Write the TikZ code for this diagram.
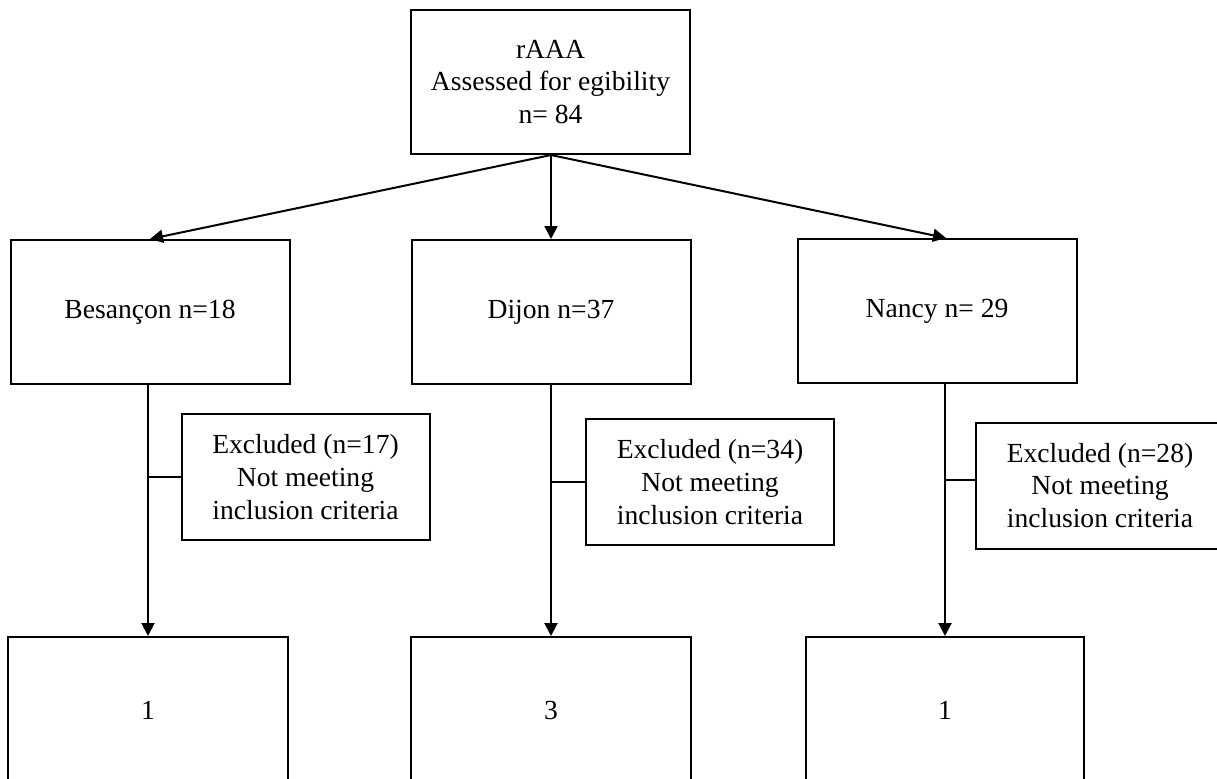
\documentclass[tikz,border=0pt]{standalone}
\usepackage{fontspec}
\setmainfont{Liberation Serif}
\usepackage{tikz}
\usetikzlibrary{arrows.meta,calc}

\begin{document}
\begin{tikzpicture}[x=0.5pt,y=-0.5pt,>={Triangle[length=6.5pt,width=6.5pt]},
  line width=1pt,
  box/.style={draw,align=center,inner sep=0pt,minimum width=139.5pt,minimum height=72pt,
    font=\fontsize{13.8}{16.3}\selectfont},
  exclbox/.style={box,minimum width=124pt,minimum height=63pt}]
  \useasboundingbox (0,0) rectangle (1217,778);
  \clip (0,0) rectangle (1217,778);
  % --- Kopf ---
  \node[box] (top) at (550.5,82) {rAAA\\Assessed for egibility\\n= 84};
  % --- Zentren ---
  \node[box] (besancon) at (150,312) {Besançon n=18};
  \node[box] (dijon) at (551,312) {Dijon n=37};
  \node[box] (nancy) at (937,311) {Nancy n= 29};
  \draw[->] ([xshift=0.25pt]top.south) -- (besancon.north);
  \draw[->] ([xshift=0.25pt]top.south) -- (dijon.north);
  \draw[->] ([xshift=0.25pt]top.south) -- ([xshift=4.5pt]nancy.north);
  % --- Ausschluss ---
  \node[exclbox] (besexcl) at (305.5,477) {Excluded (n=17)\\Not meeting\\inclusion criteria};
  \node[exclbox] (dijexcl) at (710,482) {Excluded (n=34)\\Not meeting\\inclusion criteria};
  \node[exclbox] (nanexcl) at (1100,485.5) {Excluded (n=28)\\Not meeting\\inclusion criteria};
  % --- Ergebnis ---
  \node[box,minimum width=140pt,minimum height=73pt] (besbot) at (148,710) {1};
  \node[box,minimum width=140pt,minimum height=73pt] (dijbot) at (551,710) {3};
  \node[box,minimum width=139pt,minimum height=73pt] (nanbot) at (945,710) {1};
  \draw[->] (besbot.north |- besancon.south) -- (besbot.north);
  \draw[->] (dijbot.north |- dijon.south) -- (dijbot.north);
  \draw[->] (nanbot.north |- nancy.south) -- (nanbot.north);
  \draw (besexcl.west) -- (besexcl.west -| besbot.north);
  \draw (dijexcl.west) -- (dijexcl.west -| dijbot.north);
  \draw ([yshift=3pt]nanexcl.west) -- ([yshift=3pt]nanexcl.west -| nanbot.north);
\end{tikzpicture}
\end{document}
